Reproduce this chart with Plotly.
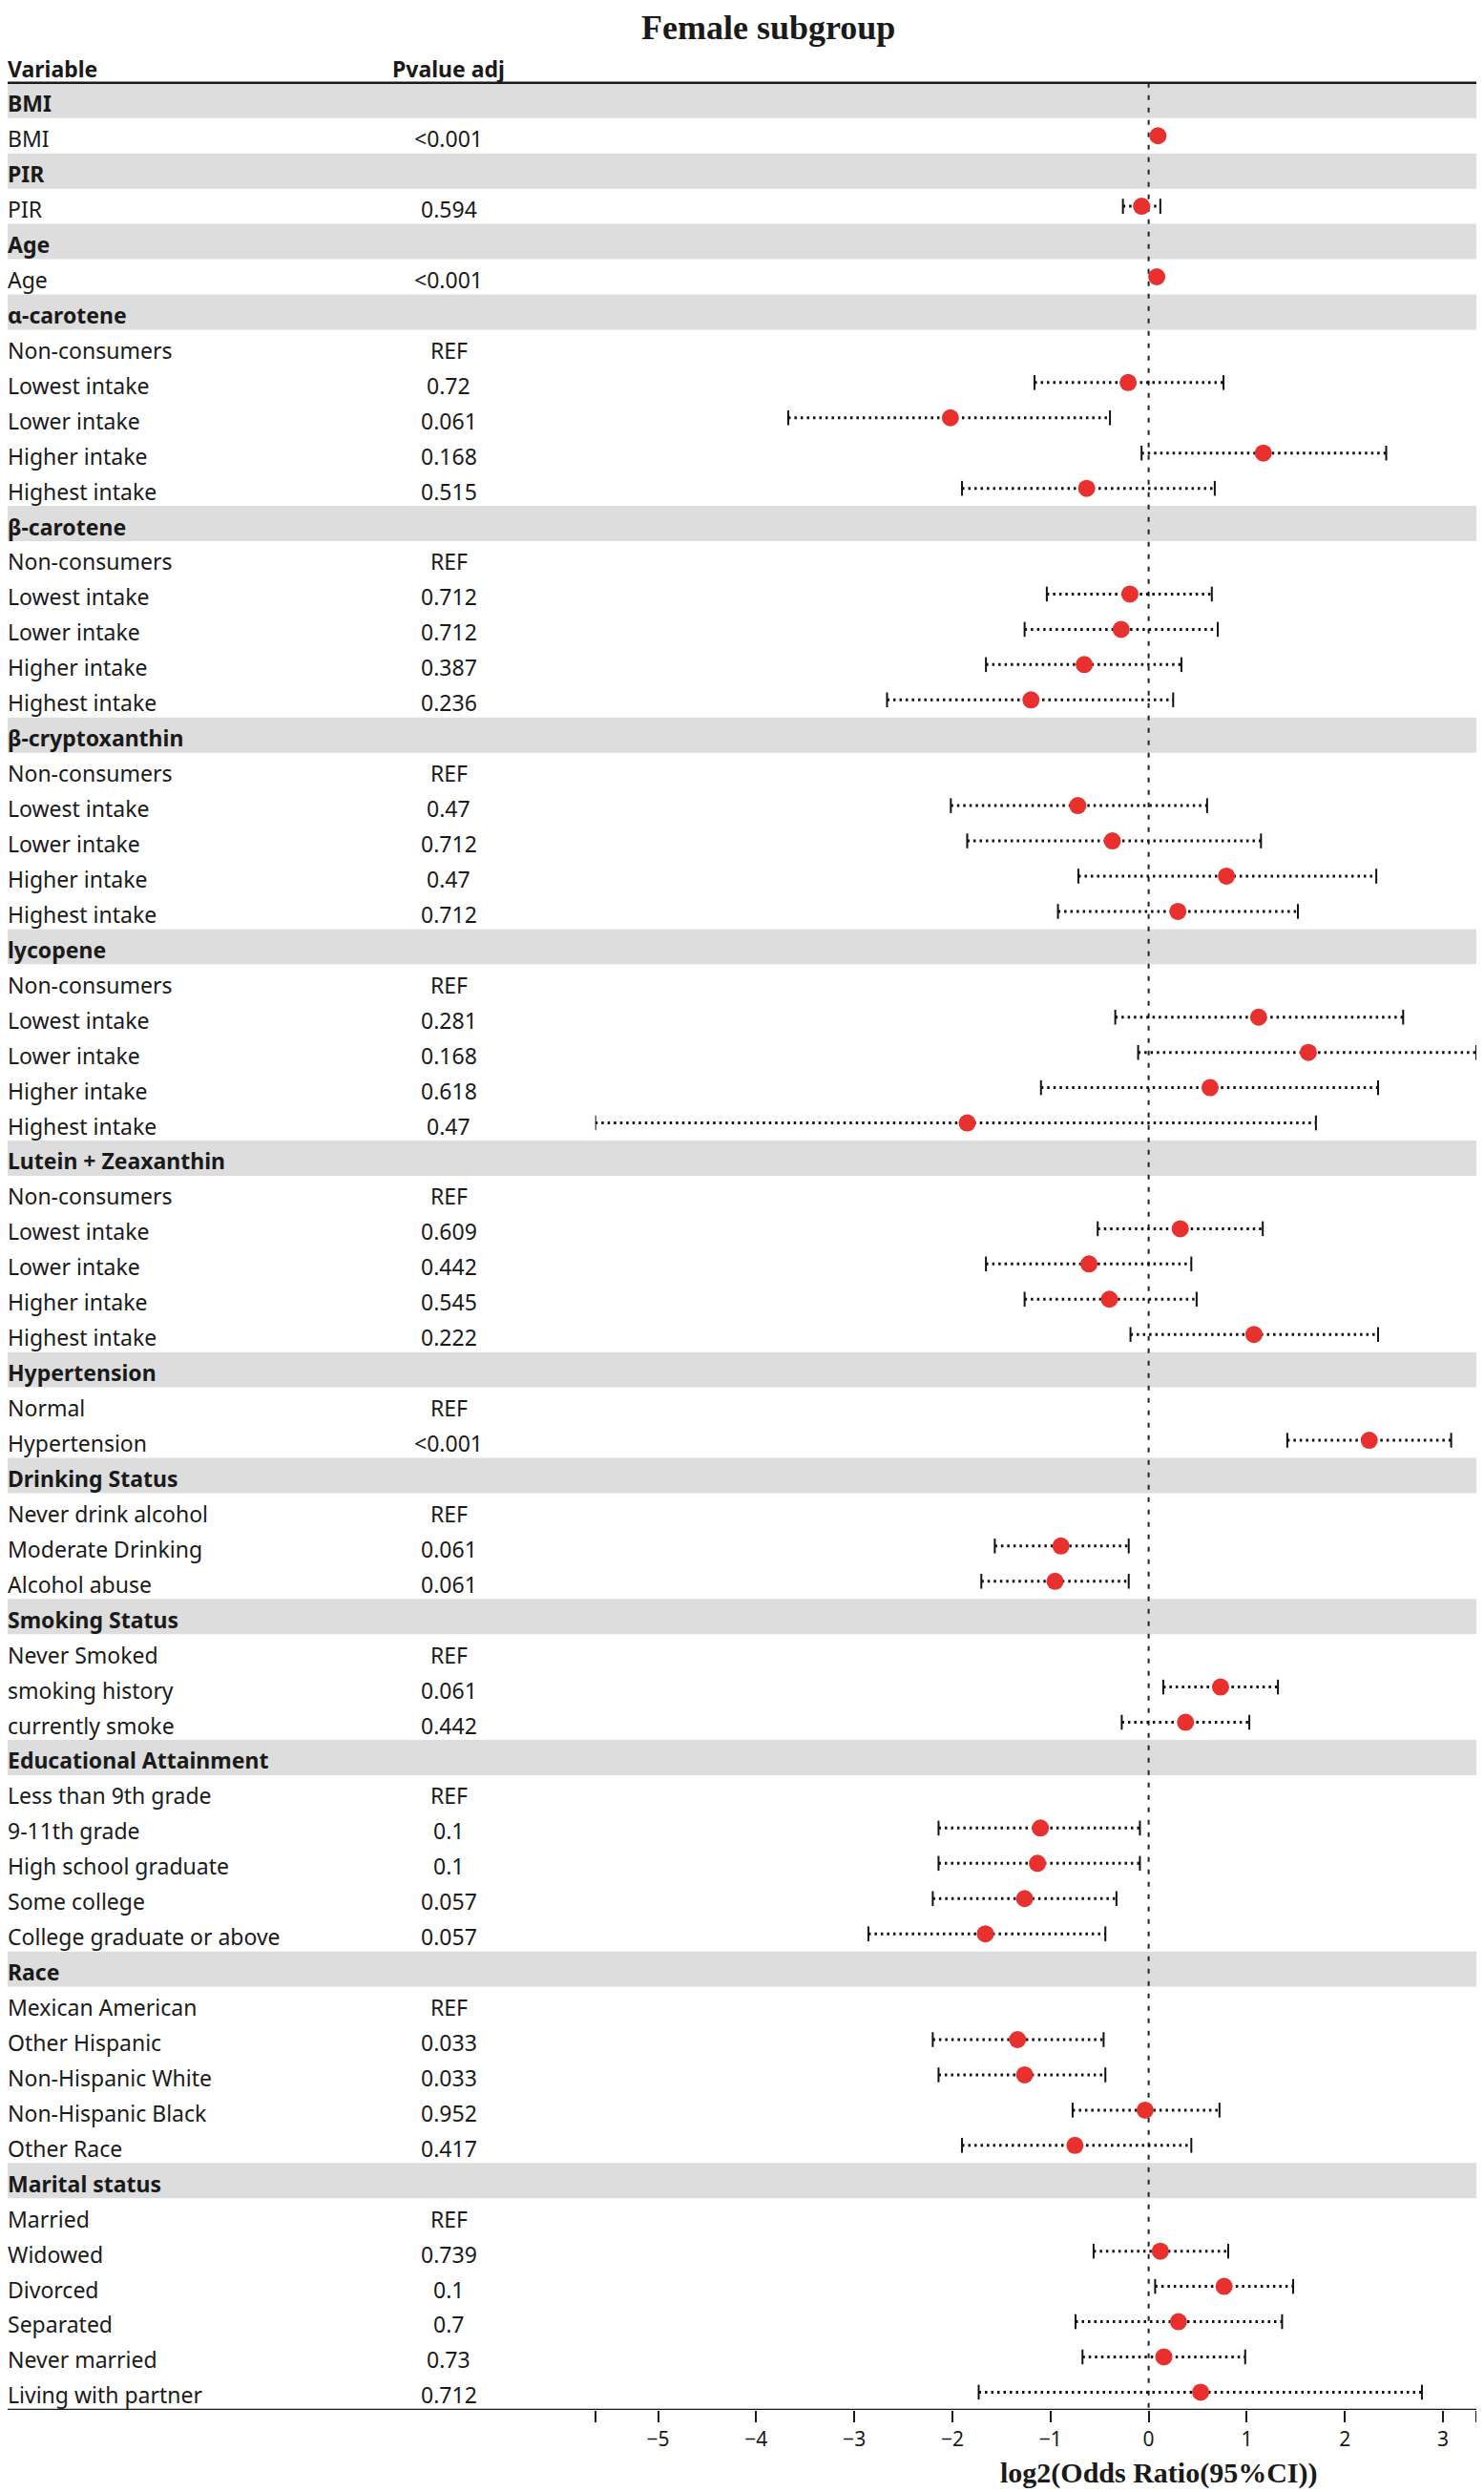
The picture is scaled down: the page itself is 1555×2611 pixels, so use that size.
import plotly.graph_objects as go

# ---- data ----
intake_levels = ["Non-consumers", "Lowest intake", "Lower intake", "Higher intake", "Highest intake"]

group_names = ["BMI", "PIR", "Age", "α-carotene", "β-carotene", "β-cryptoxanthin", "lycopene",
               "Lutein + Zeaxanthin", "Hypertension", "Drinking Status", "Smoking Status",
               "Educational Attainment", "Race", "Marital status"]

group_items = [
    ["BMI"], ["PIR"], ["Age"],
    intake_levels, intake_levels, intake_levels, intake_levels, intake_levels,
    ["Normal", "Hypertension"],
    ["Never drink alcohol", "Moderate Drinking", "Alcohol abuse"],
    ["Never Smoked", "smoking history", "currently smoke"],
    ["Less than 9th grade", "9-11th grade", "High school graduate", "Some college",
     "College graduate or above"],
    ["Mexican American", "Other Hispanic", "Non-Hispanic White", "Non-Hispanic Black", "Other Race"],
    ["Married", "Widowed", "Divorced", "Separated", "Never married", "Living with partner"],
]

pvalues = [
    ["<0.001"], ["0.594"], ["<0.001"],
    ["REF", "0.72", "0.061", "0.168", "0.515"],
    ["REF", "0.712", "0.712", "0.387", "0.236"],
    ["REF", "0.47", "0.712", "0.47", "0.712"],
    ["REF", "0.281", "0.168", "0.618", "0.47"],
    ["REF", "0.609", "0.442", "0.545", "0.222"],
    ["REF", "<0.001"],
    ["REF", "0.061", "0.061"],
    ["REF", "0.061", "0.442"],
    ["REF", "0.1", "0.1", "0.057", "0.057"],
    ["REF", "0.033", "0.033", "0.952", "0.417"],
    ["REF", "0.739", "0.1", "0.7", "0.73", "0.712"],
]

log2_or = [
    [0.095], [-0.072], [0.083],
    [None, -0.209, -2.021, 1.169, -0.632],
    [None, -0.191, -0.280, -0.656, -1.199],
    [None, -0.722, -0.370, 0.793, 0.298],
    [None, 1.121, 1.628, 0.626, -1.849],
    [None, 0.322, -0.608, -0.400, 1.073],
    [None, 2.248],
    [None, -0.894, -0.954],
    [None, 0.733, 0.376],
    [None, -1.103, -1.133, -1.264, -1.664],
    [None, -1.336, -1.264, -0.036, -0.751],
    [None, 0.119, 0.769, 0.304, 0.155, 0.530],
]

ci_low = [
    [0.075], [-0.262], [0.065],
    [None, -1.163, -3.673, -0.072, -1.902],
    [None, -1.038, -1.264, -1.658, -2.666],
    [None, -2.016, -1.849, -0.716, -0.924],
    [None, -0.340, -0.107, -1.097, -5.64],
    [None, -0.519, -1.658, -1.264, -0.185],
    [None, 1.413],
    [None, -1.568, -1.705],
    [None, 0.149, -0.274],
    [None, -2.141, -2.141, -2.200, -2.856],
    [None, -2.200, -2.141, -0.775, -1.902],
    [None, -0.561, 0.066, -0.745, -0.674, -1.732],
]

ci_high = [
    [0.115], [0.119], [0.101],
    [None, 0.763, -0.394, 2.421, 0.674],
    [None, 0.644, 0.704, 0.334, 0.250],
    [None, 0.596, 1.145, 2.320, 1.521],
    [None, 2.594, 3.34, 2.338, 1.705],
    [None, 1.163, 0.435, 0.489, 2.338],
    [None, 3.083],
    [None, -0.203, -0.203],
    [None, 1.318, 1.026],
    [None, -0.089, -0.089, -0.328, -0.441],
    [None, -0.459, -0.441, 0.722, 0.435],
    [None, 0.811, 1.473, 1.360, 0.984, 2.785],
]

x_limits = [-5.64, 3.34]
tick_values = [-5.64, -5, -4, -3, -2, -1, 0, 1, 2, 3, 3.34]
tick_text = ["", "−5", "−4", "−3", "−2", "−1", "0", "1", "2", "3", ""]

# ---- flatten into table rows ----
rows = []
for g, name in enumerate(group_names):
    rows.append((name, "", None, None, None, True))
    for i, item in enumerate(group_items[g]):
        rows.append((item, pvalues[g][i], log2_or[g][i], ci_low[g][i], ci_high[g][i], False))
n_rows = len(rows)

# page has an 8px body margin, so the figure is shifted; positions below are page pixels
OFF = 8
W, H = 1555 - OFF, 2611 - OFF


def px(x):
    return (x - OFF) / W


def py(y):
    return 1 - (y - OFF) / H


txt_font = "Noto Sans"
red = "#e8312f"
ink = "#1a1a1a"

shapes = []
annotations = []
ci_x, ci_y, cap_x, cap_y, pt_x, pt_y = [], [], [], [], [], []

for r, (label, pv, est, lo, hi, header) in enumerate(rows):
    k = r + 1
    if header:
        shapes.append(dict(type="rect", xref="paper", yref="y", x0=px(6), x1=px(1550),
                           y0=k - 0.5, y1=k + 0.5, fillcolor="#dddddd", line_width=0, layer="below"))
    annotations.append(dict(x=px(6), y=k + 0.08, xref="paper", yref="y", text=label,
                            xanchor="left", yanchor="middle", showarrow=False,
                            font=dict(family=txt_font, size=23, color=ink,
                                      weight="bold" if header else "normal")))
    if pv:
        annotations.append(dict(x=px(470), y=k + 0.08, xref="paper", yref="y", text=pv,
                                xanchor="center", yanchor="middle", showarrow=False,
                                font=dict(family=txt_font, size=23, color=ink)))
    if est is not None:
        ci_x += [lo, hi, None]
        ci_y += [k, k, None]
        cap_x += [lo, lo, None, hi, hi, None]
        cap_y += [k - 0.21, k + 0.21, None, k - 0.21, k + 0.21, None]
        pt_x.append(est)
        pt_y.append(k)

# column headers
for x, txt, anchor in [(px(6), "Variable", "left"), (px(470), "Pvalue adj", "center")]:
    annotations.append(dict(x=x, y=0.1, xref="paper", yref="y", text=txt, xanchor=anchor,
                            yanchor="middle", showarrow=False,
                            font=dict(family=txt_font, size=23, color=ink, weight="bold")))

# title and x-axis title
annotations.append(dict(x=px(805), y=1, xref="paper", yref="paper", text="<b>Female subgroup</b>",
                        xanchor="center", yanchor="top", showarrow=False, borderpad=0,
                        font=dict(family="Liberation Serif", size=36, color=ink)))
annotations.append(dict(x=px(1214), y=py(2591), xref="paper", yref="paper",
                        text="<b>log2(Odds Ratio(95%CI))</b>",
                        xanchor="center", yanchor="middle", showarrow=False,
                        font=dict(family="Liberation Serif", size=30, color=ink)))

# table rules and zero line
shapes.append(dict(type="line", xref="paper", yref="y", x0=px(6), x1=px(1550), y0=0.5, y1=0.5,
                   line=dict(color=ink, width=2.5)))
shapes.append(dict(type="line", xref="paper", yref="y", x0=px(6), x1=px(1550),
                   y0=n_rows + 0.5, y1=n_rows + 0.5, line=dict(color=ink, width=2)))
shapes.append(dict(type="line", xref="x", yref="y", x0=0, x1=0, y0=0.5, y1=n_rows + 0.5,
                   line=dict(color="#222222", width=2, dash="5px,8px"), layer="below"))

fig = go.Figure()
fig.add_trace(go.Scatter(x=ci_x, y=ci_y, mode="lines", hoverinfo="skip",
                         line=dict(color="#111111", width=3, dash="2.5px,4px")))
fig.add_trace(go.Scatter(x=cap_x, y=cap_y, mode="lines", hoverinfo="skip",
                         line=dict(color="#111111", width=2)))
fig.add_trace(go.Scatter(x=pt_x, y=pt_y, mode="markers",
                         marker=dict(color=red, size=18, line_width=0)))

# y mapping: row 1 centre at 105.3 px, 36.94 px per row, axis bottom at 2525 px (page pixels)
row_px, first_px, bottom_px = 36.94, 105.3 - OFF, 2525 - OFF
y_top = 1 - first_px / row_px
y_bottom = 1 + (bottom_px - first_px) / row_px

fig.update_layout(
    width=W, height=H, margin=dict(l=0, r=0, t=0, b=0),
    paper_bgcolor="white", plot_bgcolor="rgba(0,0,0,0)", showlegend=False,
    shapes=shapes, annotations=annotations,
    xaxis=dict(domain=[px(623.7), px(1547)], range=x_limits, showgrid=False, zeroline=False,
               showline=False, tickmode="array", tickvals=tick_values, ticktext=tick_text,
               ticks="outside", ticklen=12, tickwidth=1.6, tickcolor=ink,
               tickfont=dict(family=txt_font, size=21, color=ink)),
    yaxis=dict(domain=[(H - bottom_px) / H, 1], range=[y_bottom, y_top], visible=False),
)

fig.write_html("out.html")
